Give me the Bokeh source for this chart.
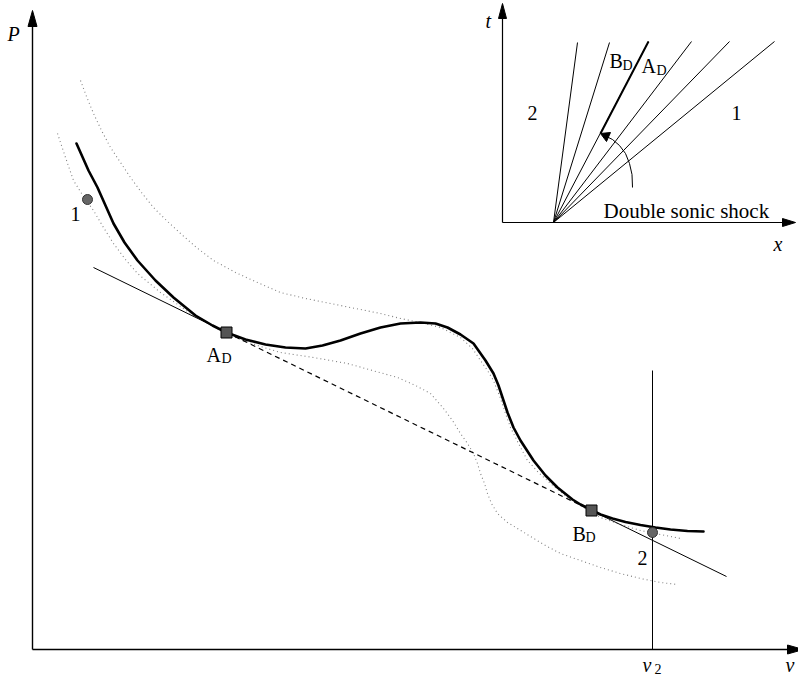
from bokeh.plotting import figure
from bokeh.models import Range1d
from bokeh.core.properties import value
from bokeh.embed import file_html
from bokeh.resources import INLINE

# ---------------- data (schematic coordinates) ----------------
# main P-v curve (thick)
main_x = [76, 80, 88, 97, 105, 113, 124, 137, 155, 173, 195, 212, 226, 245, 265, 285, 305, 322, 340,
          360, 380, 400, 420, 435, 447, 460, 473, 485, 493, 498, 503, 507, 513, 520, 533, 545, 557,
          572, 580, 591, 600, 612, 625, 640, 655, 670, 687, 703]
main_y = [143, 152, 170, 187, 205, 223, 242, 260, 280, 297, 315, 325, 332, 339, 344, 347, 348, 345, 340,
          333, 327, 323, 322, 323, 327, 334, 343, 360, 373, 385, 400, 412, 427, 440, 460, 475, 487,
          499, 504, 509.5, 514, 518, 521.5, 524.5, 527, 529, 530.5, 531]

# upper dotted curve
up_x = [80, 86, 93, 101, 110, 120, 130, 141, 153, 166, 180, 196, 213, 235, 257, 280, 305, 330, 355,
        380, 400, 420, 440, 460, 472, 480, 487, 493, 500, 505, 510, 518, 527, 538, 550, 567, 585,
        600, 620, 640, 660, 680]
up_y = [80, 96, 113, 130, 147, 162, 177, 192, 207, 220, 233, 247, 260, 272, 282, 292, 298, 303, 308,
        313, 318, 322, 327, 337, 348, 360, 370, 380, 398, 413, 427, 443, 460, 472, 483, 497, 508,
        517, 524, 530, 534, 538]

# lower dotted curve
lo_x = [57, 65, 73, 83, 93, 103, 113, 125, 137, 160, 193, 226, 240, 260, 280, 313, 347, 372, 397,
        415, 430, 443, 452, 460, 467, 473, 477, 480, 484, 487, 491, 497, 507, 517, 530, 545, 560,
        580, 600, 620, 640, 660, 677]
lo_y = [133, 157, 180, 196, 210, 227, 243, 259, 273, 292, 315, 333, 339, 346, 352, 357, 363, 370, 377,
        385, 393, 408, 420, 433, 443, 453, 463, 473, 483, 493, 503, 513, 522, 528, 536, 545, 553,
        560, 567, 573, 578, 582, 584]

# Rayleigh line through A_D and B_D
ad = (226, 332)
bd = (591, 510)
ray_left = (93, 267)
ray_right = (726, 576)

# states 1 and 2
state_x = [87, 652]
state_y = [199, 532]

# v2 vertical line
v2_x = [652, 652]
v2_y = [370, 649]

# main axes
axis_v_x = [32, 32]
axis_v_y = [649, 20]
axis_h_x = [32, 790]
axis_h_y = [649, 649]
head_v_x = [32, 27.5, 36.5]
head_v_y = [10, 26, 26]
head_h_x = [803, 787, 787]
head_h_y = [649, 644.5, 653.5]

# inset axes
in_t_x = [502, 502]
in_t_y = [222, 12]
in_x_x = [502, 785]
in_x_y = [222, 222]
in_head_t_x = [502, 498, 506]
in_head_t_y = [3, 18, 18]
in_head_x_x = [795, 782, 782]
in_head_x_y = [222, 218, 226]

# inset fan
fan_origin = (553, 222)
fan_top_x = [577, 609, 648, 691, 729, 774]
fan_top_y = [42, 42, 41, 41, 41, 41]
thick_x = [600, 648]
thick_y = [133, 41]

# curved arrow pointing at double sonic shock
carrow_x = [632, 631.5, 629, 625, 619, 612, 606]
carrow_y = [187, 174, 163, 153, 145, 139, 136]
carrow_head_x = [600, 610, 606]
carrow_head_y = [133, 132, 141]

# text labels
lab_x = [7, 70, 637, 206, 572, 642, 785, 485, 527, 731, 609, 641, 773, 603]
lab_y = [33, 213, 557, 354, 533, 664, 664, 20, 112, 112, 60, 65, 243, 210]
lab_t = ["P", "1", "2", "A", "B", "v", "v", "t", "2", "1", "B", "A", "x", "Double sonic shock"]
lab_italic = [True, False, False, False, False, True, True, True, False, False, False, False, True, False]
lab_size = ["20px"] * 13 + ["21px"]

sub_x = [221, 585, 654, 622, 656]
sub_y = [358, 537, 668, 65, 70]
sub_t = ["D", "D", "2", "D", "D"]

# ---------------- figure ----------------
p = figure(width=798, height=675, x_range=Range1d(0, 798), y_range=Range1d(675, 0),
           output_backend="svg", toolbar_location=None, min_border=0)
p.axis.visible = False
p.grid.visible = False
p.outline_line_color = None

black = "#000000"
dotc = "#808080"
serif = value("Liberation Serif")

# dotted curves
p.line(up_x, up_y, line_color=dotc, line_width=1.1, line_dash="1 3")
p.line(lo_x, lo_y, line_color=dotc, line_width=1.1, line_dash="1 3")

# Rayleigh line
p.line([ray_left[0], ad[0]], [ray_left[1], ad[1]], line_color=black, line_width=1)
p.line([ad[0], bd[0]], [ad[1], bd[1]], line_color=black, line_width=1.2, line_dash="5 4")
p.line([bd[0], ray_right[0]], [bd[1], ray_right[1]], line_color=black, line_width=1)

# main curve
p.line(main_x, main_y, line_color=black, line_width=2.6, line_join="round", line_cap="round")

# v2 vertical
p.line(v2_x, v2_y, line_color=black, line_width=1)

# axes
p.line(axis_v_x, axis_v_y, line_color=black, line_width=1.4)
p.line(axis_h_x, axis_h_y, line_color=black, line_width=1.4)
p.patches([head_v_x, head_h_x], [head_v_y, head_h_y], fill_color=black, line_color=black)

# inset axes
p.line(in_t_x, in_t_y, line_color=black, line_width=1.2)
p.line(in_x_x, in_x_y, line_color=black, line_width=1.2)
p.patches([in_head_t_x, in_head_x_x], [in_head_t_y, in_head_x_y], fill_color=black, line_color=black)

# fan
p.segment(x0=[fan_origin[0]] * len(fan_top_x), y0=[fan_origin[1]] * len(fan_top_x),
          x1=fan_top_x, y1=fan_top_y, line_color=black, line_width=1)
p.line(thick_x, thick_y, line_color=black, line_width=2.0)

# curved arrow
p.line(carrow_x, carrow_y, line_color=black, line_width=1)
p.patch(carrow_head_x, carrow_head_y, fill_color=black, line_color=black)

# markers
p.scatter([ad[0], bd[0]], [ad[1], bd[1]], marker="square", size=11, fill_color="#555555",
          line_color=black, line_width=1)
p.scatter(state_x, state_y, marker="circle", size=10, fill_color="#666666",
          line_color="#333333", line_width=1)

# labels
for xx, yy, tt, it, sz in zip(lab_x, lab_y, lab_t, lab_italic, lab_size):
    p.text(x=[xx], y=[yy], text=[tt], text_font=serif,
           text_font_size=sz, text_font_style="italic" if it else "normal",
           text_baseline="alphabetic", text_align="left", text_color=black)
p.text(x=sub_x, y=sub_y, text=sub_t, text_font=serif,
       text_font_size="14px", text_baseline="alphabetic", text_align="left", text_color=black)

open("out.html", "w").write(file_html(p, INLINE))
